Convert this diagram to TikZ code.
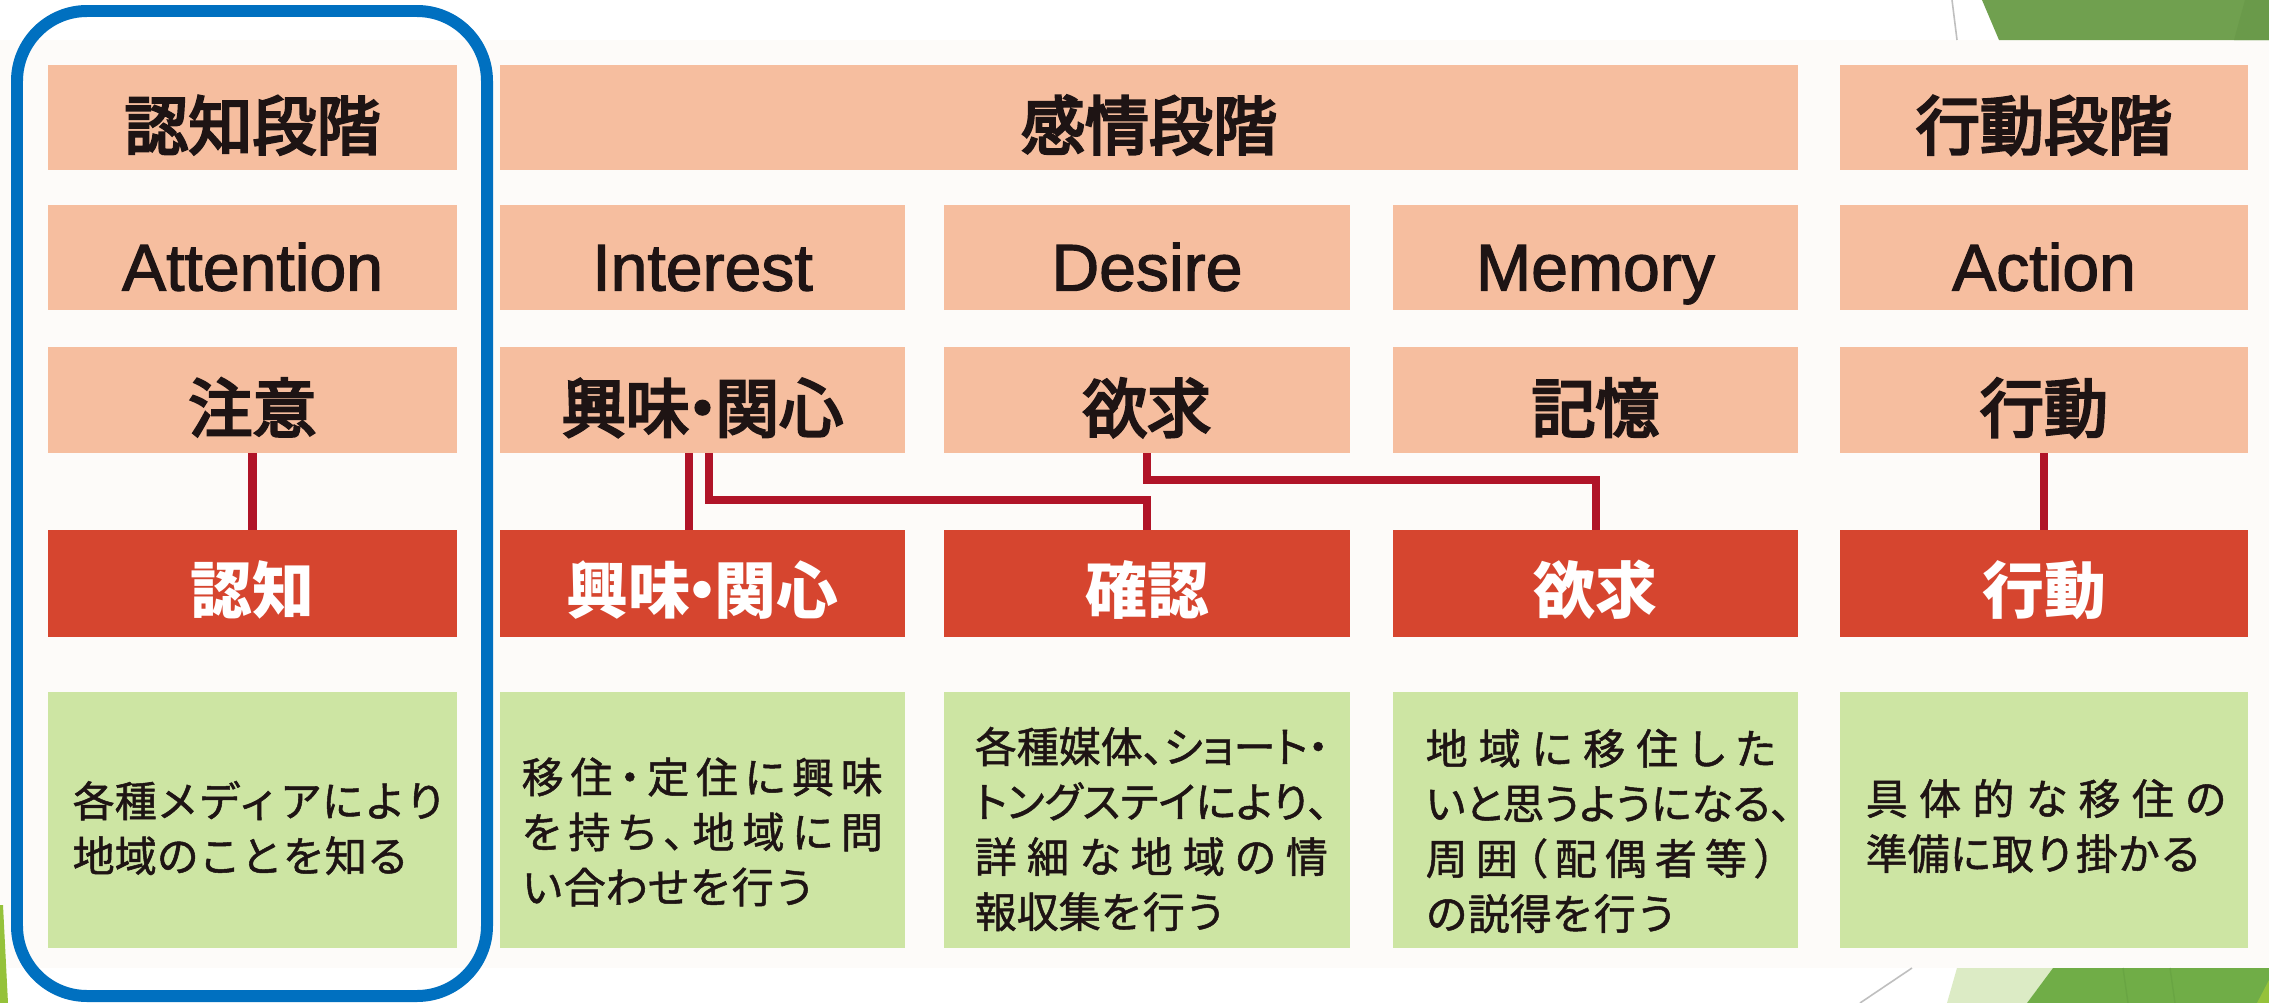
\documentclass[tikz,border=0pt]{standalone}
\usepackage{fontspec}
\newfontfamily\jp{Noto Sans CJK JP}
\newfontfamily\jpm{Noto Sans CJK JP}[FakeBold=4]
\newfontfamily\jpg{Noto Sans CJK JP}[FakeBold=1.2]
\newfontfamily\jpp{Noto Sans CJK JP}[RawFeature=+palt, FakeBold=1.2]
\newfontfamily\en{Liberation Sans}[FakeBold=1.8]
\definecolor{peach}{HTML}{F6BE9F}
\definecolor{redbox}{HTML}{D6452F}
\definecolor{greenbox}{HTML}{CDE5A3}
\definecolor{connred}{HTML}{B01428}
\definecolor{ink}{HTML}{1E1414}
\definecolor{frameblue}{HTML}{0070C0}
\definecolor{scanbg}{HTML}{FDFBF9}
\definecolor{facetgreen}{HTML}{70A04F}
\definecolor{facetgreenb}{HTML}{6A9A4A}
\definecolor{facetdark}{HTML}{70AD47}
\definecolor{facetdarkb}{HTML}{69A543}
\definecolor{facetlight}{HTML}{DCEBC5}
\definecolor{facetlime}{HTML}{95C23A}
\makeatletter
\def\spreadchars#1{\spr@ad#1\@nil}
\def\spr@ad#1#2\@nil{#1\if\relax\detokenize{#2}\relax\else\hfill\spr@ad#2\@nil\fi}
\makeatother
\newcommand\jl[2]{\makebox[#1][s]{\jpp\spreadchars{#2}}}
\tikzset{
  base/.style={inner sep=0pt, outer sep=0pt},
  hdr/.style={base, fill=peach, minimum height=1.05cm, text height=18.2pt, text depth=0pt,
    font=\jpm\fontsize{18.2pt}{18.2pt}\selectfont, text=ink},
  eng/.style={base, fill=peach, minimum height=1.05cm, text height=18.8pt, text depth=0pt,
    font=\en\fontsize{18.8pt}{18.8pt}\selectfont, text=ink},
  jrow/.style={hdr, minimum height=1.06cm},
  redb/.style={base, fill=redbox, minimum height=1.07cm, text height=16.8pt, text depth=0pt,
    font=\jp\bfseries\fontsize{17.6pt}{17.6pt}\selectfont, text=white},
  grn/.style={base, fill=greenbox, minimum height=2.56cm},
  gtext/.style={anchor=west, align=left, inner sep=0pt,
    font=\jpg\fontsize{11.95pt}{15.65pt}\selectfont, text=ink},
  conn/.style={draw=connred, line width=2.28pt},
}
\begin{document}
\begin{tikzpicture}[x=0.01cm, y=-0.01cm]
\useasboundingbox (0,0) rectangle (2269,1003);
\fill[white] (0,0) rectangle (2269,1003);
\fill[scanbg] (0,40) rectangle (2269,968);
% slide decorations
\fill[facetgreen] (1982,0) -- (2269,0) -- (2269,40) -- (1999,40) -- cycle;
\fill[facetgreenb] (2245,0) -- (2269,0) -- (2269,40) -- (2234,40) -- cycle;
\draw[black!25, line width=0.45pt] (1952,0) -- (1957,40);
\fill[facetlight] (1957,968) -- (2053,968) -- (2027,1003) -- (1947,1003) -- cycle;
\fill[facetdark] (2053,968) -- (2269,968) -- (2269,1003) -- (2027,1003) -- cycle;
\draw[facetdarkb, line width=0.4pt] (2123,968) -- (2128,1003);
\draw[facetdarkb, line width=0.4pt] (2170,968) -- (2175,1003);
\fill[facetlime] (2257,1003) -- (2269,980) -- (2269,1003) -- cycle;
\draw[black!25, line width=0.45pt] (1912,968) -- (1860,1003);
\fill[facetlime] (0,905) -- (3,905) -- (8,1003) -- (0,1003) -- cycle;

% row 1
\node[hdr, minimum width=4.09cm] (a1) at (252.5,117.5) {認知段階};
\node[hdr, minimum width=12.98cm] (a2) at (1149,117.5) {感情段階};
\node[hdr, minimum width=4.08cm] (a5) at (2044,117.5) {行動段階};
% row 2
\node[eng, minimum width=4.09cm] (b1) at (252.5,257.5) {Attention};
\node[eng, minimum width=4.05cm] (b2) at (702.5,257.5) {Interest};
\node[eng, minimum width=4.06cm] (b3) at (1147,257.5) {Desire};
\node[eng, minimum width=4.05cm] (b4) at (1595.5,257.5) {Memory};
\node[eng, minimum width=4.08cm] (b5) at (2044,257.5) {Action};
% row 3
\node[jrow, minimum width=4.09cm] (c1) at (252.5,400) {注意};
\node[jrow, minimum width=4.05cm] (c2) at (702.5,400) {興味\hspace{-0.3em}・\hspace{-0.3em}関心};
\node[jrow, minimum width=4.06cm] (c3) at (1147,400) {欲求};
\node[jrow, minimum width=4.05cm] (c4) at (1595.5,400) {記憶};
\node[jrow, minimum width=4.08cm] (c5) at (2044,400) {行動};
% row 4
\node[redb, minimum width=4.09cm] (r1) at (252.5,583.5) {認知};
\node[redb, minimum width=4.05cm] (r2) at (702.5,583.5) {興味\hspace{-0.3em}・\hspace{-0.3em}関心};
\node[redb, minimum width=4.06cm] (r3) at (1147,583.5) {確認};
\node[redb, minimum width=4.05cm] (r4) at (1595.5,583.5) {欲求};
\node[redb, minimum width=4.08cm] (r5) at (2044,583.5) {行動};
% row 5
\node[grn, minimum width=4.09cm] (g1) at (252.5,820) {};
\node[grn, minimum width=4.05cm] (g2) at (702.5,820) {};
\node[grn, minimum width=4.06cm] (g3) at (1147,820) {};
\node[grn, minimum width=4.05cm] (g4) at (1595.5,820) {};
\node[grn, minimum width=4.08cm] (g5) at (2044,820) {};

\node[gtext] (t1) at (72,828) {各種メディアにより\\地域のことを知る};
\node[gtext] (t2) at (521,832) {\jl{3.61cm}{移住・定住に興味}\\\jl{3.61cm}{を持ち、地域に問}\\い合わせを行う};
\node[gtext] (t3) at (974,829) {\jl{3.53cm}{各種媒体、ショート・}\\\jl{3.53cm}{トングステイにより、}\\\jl{3.53cm}{詳細な地域の情}\\報収集を行う};
\node[gtext] (t4) at (1425,831) {\jl{3.50cm}{地域に移住した}\\\jl{3.50cm}{いと思うようになる、}\\\jl{3.50cm}{周囲（配偶者等）}\\の説得を行う};
\node[gtext] (t5) at (1865,826) {\jl{3.60cm}{具体的な移住の}\\準備に取り掛かる};

% connectors
\draw[conn] (c1.south) -- (r1.north);
\draw[conn] ([xshift=-0.135cm]c2.south) -- ([xshift=-0.135cm]r2.north);
\draw[conn] ([xshift=0.065cm]c2.south) -- ++(0,47) -| (r3.north);
\draw[conn] (c3.south) -- ++(0,27) -| (r4.north);
\draw[conn] (c5.south) -- (r5.north);

% highlight frame
\draw[frameblue, line width=3.41pt, rounded corners=0.7cm] (17,11) rectangle (487,996);
\end{tikzpicture}
\end{document}
